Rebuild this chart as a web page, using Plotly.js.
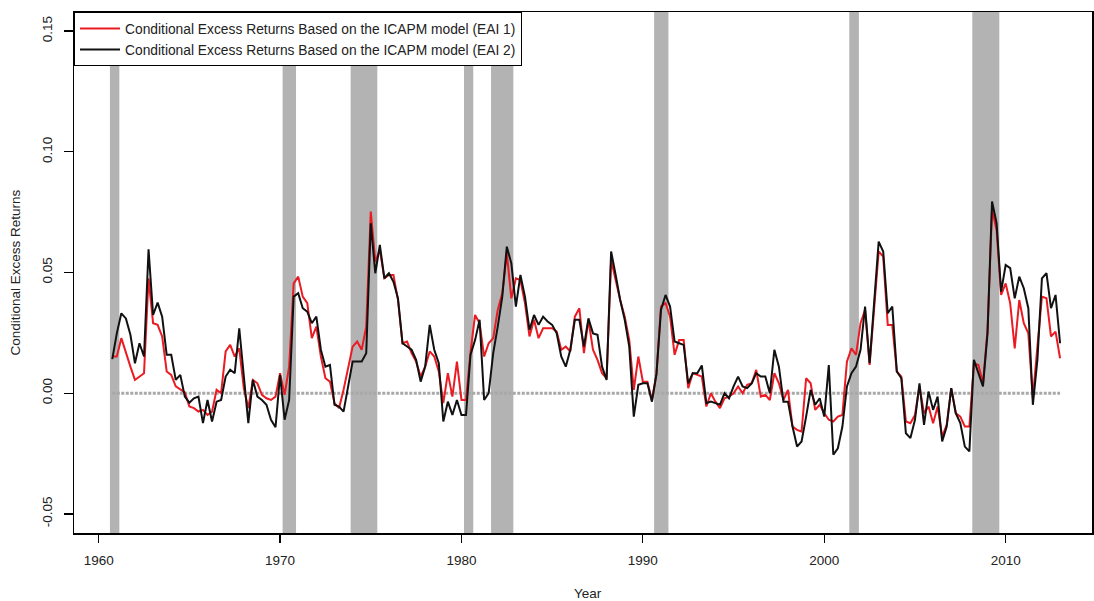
<!DOCTYPE html>
<html>
<head>
<meta charset="utf-8">
<script src="https://cdn.plot.ly/plotly-3.0.1.min.js"></script>
<style>
html,body{margin:0;padding:0;background:#fff;}
#chart{width:1094px;height:601px;}
</style>
</head>
<body>
<div id="chart"></div>
<script>
// ---- data (quarterly, first quarter at 1960.75) ----
const startYear = 1960.75;
const quarterStep = 0.25;

const eai1 = [
0.0152, 0.0152, 0.0228, 0.0166, 0.011, 0.0055, 0.0069, 0.0083, 0.0476, 0.029,
0.0283, 0.0235, 0.009, 0.0076, 0.0028, 0.0014, 0.0003, -0.0055, -0.0062, -0.0076,
-0.0069, -0.009, -0.0076, 0.0014, 0, 0.0173, 0.02, 0.0152, 0.0186, 0.0021,
-0.0062, 0.0055, 0.0041, -0.0007, -0.0021, -0.0028, -0.0014, 0.0083, -0.0007, 0.011,
0.0455, 0.0483, 0.040, 0.0373, 0.0228, 0.0276, 0.0152, 0.0062, 0.0048, -0.0041,
-0.0062, 0.0014, 0.0097, 0.0193, 0.0214, 0.018, 0.0276, 0.0752, 0.0545, 0.0593,
0.0476, 0.049, 0.049, 0.0386, 0.0207, 0.0214, 0.0166, 0.0131, 0.0069, 0.011,
0.0173, 0.0152, 0.009, -0.0041, 0.0083, -0.0014, 0.0131, -0.0028, -0.0028, 0.017,
0.0324, 0.029, 0.0152, 0.0207, 0.0228, 0.0345, 0.0414, 0.058, 0.0393, 0.0476,
0.0469, 0.0373, 0.0235, 0.0304, 0.0228, 0.0269, 0.0269, 0.0269, 0.0255, 0.018,
0.0193, 0.0173, 0.0317, 0.0352, 0.0166, 0.0304, 0.018, 0.0138, 0.0083, 0.0062,
0.0552, 0.0469, 0.0386, 0.0317, 0.022, 0.0014, 0.0152, 0.0048, 0.0048, -0.0028,
0.008, 0.0359, 0.0373, 0.0317, 0.0159, 0.022, 0.022, 0.0021, 0.0083, 0.0076,
0.0069, -0.0055, 0, -0.0035, -0.0062, -0.0021, -0.0014, 0, 0.0028, 0,
0.0035, 0.0041, 0.0097, -0.0014, -0.0007, -0.0028, 0.0083, 0.0041, -0.0028, 0.0014,
-0.0138, -0.0152, -0.0159, 0.0062, 0.0041, -0.0069, -0.0048, -0.0083, -0.011, -0.0117,
-0.0097, -0.009, 0.0131, 0.0186, 0.0159, 0.029, 0.0345, 0.0117, 0.0359, 0.0587,
0.0566, 0.0283, 0.0283, 0.009, 0.0069, -0.0117, -0.0124, -0.009, 0.0028, -0.0083,
-0.0055, -0.0124, -0.0055, -0.018, -0.0131, 0.0021, -0.0083, -0.0097, -0.0138, -0.0138,
0.0124, 0.0117, 0.0041, 0.0262, 0.0759, 0.0676, 0.0407, 0.0455, 0.0373, 0.0186,
0.0386, 0.029, 0.0248, -0.0021, 0.0193, 0.040, 0.0393, 0.0235, 0.0255, 0.0145
];

const eai2 = [
0.0141, 0.0248, 0.0331, 0.031, 0.0242, 0.0124, 0.0207, 0.0152, 0.0596, 0.0324,
0.0375, 0.0317, 0.0159, 0.0159, 0.0055, 0.0076, -0.0014, -0.0039, -0.0021, -0.0014,
-0.0124, -0.0028, -0.0117, -0.0035, -0.0028, 0.0069, 0.0097, 0.0083, 0.0269, 0.0069,
-0.0124, 0.0055, -0.0014, -0.0028, -0.0048, -0.011, -0.0141, 0.0076, -0.011, -0.0028,
0.040, 0.0414, 0.0352, 0.0338, 0.029, 0.0317, 0.018, 0.011, 0.0117, -0.0048,
-0.0055, -0.0076, 0.0028, 0.0131, 0.0131, 0.0131, 0.0166, 0.0704, 0.0497, 0.0614,
0.0476, 0.0497, 0.0462, 0.0393, 0.0207, 0.0193, 0.018, 0.0138, 0.0048, 0.011,
0.0283, 0.018, 0.0124, -0.0117, -0.0035, -0.009, -0.0028, -0.009, -0.009, 0.016,
0.022, 0.0304, -0.0028, 0, 0.0166, 0.0276, 0.040, 0.0607, 0.0538, 0.0359,
0.049, 0.040, 0.0262, 0.0324, 0.0283, 0.0317, 0.0297, 0.0283, 0.0248, 0.0152,
0.011, 0.018, 0.0304, 0.0304, 0.0193, 0.031, 0.0248, 0.0242, 0.011, 0.0055,
0.0587, 0.049, 0.0386, 0.0304, 0.0193, -0.0097, 0.0035, 0.0041, 0.0041, -0.0035,
0.008, 0.0345, 0.0407, 0.0359, 0.0214, 0.0207, 0.02, 0.0041, 0.0083, 0.0083,
0.0115, -0.0041, -0.0035, -0.0041, -0.0048, 0, -0.0021, 0.0028, 0.0069, 0.0028,
0.0021, 0.0041, 0.0083, 0.0069, 0.0069, 0, 0.018, 0.011, -0.0035, -0.0035,
-0.0138, -0.0221, -0.02, -0.0097, 0.0014, -0.0048, -0.0021, -0.0097, 0.0117, -0.0255,
-0.0228, -0.0138, 0.0028, 0.0083, 0.011, 0.018, 0.0359, 0.0124, 0.0359, 0.0628,
0.0587, 0.0331, 0.0359, 0.009, 0.0062, -0.0166, -0.0186, -0.011, 0.0041, -0.0131,
0.0007, -0.0069, -0.0014, -0.02, -0.0138, 0.0021, -0.0083, -0.0124, -0.0221, -0.0241,
0.0138, 0.0083, 0.0028, 0.0248, 0.0794, 0.0704, 0.0421, 0.0531, 0.0518, 0.0393,
0.0483, 0.0435, 0.0352, -0.0048, 0.0138, 0.0476, 0.0497, 0.0352, 0.0407, 0.0207
];

// recession shading (years)
const recStart = [1960.62, 1970.14, 1973.89, 1980.14, 1981.63, 1990.62, 2001.38, 2008.16];
const recEnd   = [1961.14, 1970.88, 1975.36, 1980.65, 1982.86, 1991.41, 2001.91, 2009.65];

const xTicks = [1960, 1970, 1980, 1990, 2000, 2010];
const yTicks = [-0.05, 0.00, 0.05, 0.10, 0.15];
const yTickText = ["-0.05", "0.00", "0.05", "0.10", "0.15"];

const name1 = "Conditional Excess Returns Based on the ICAPM model (EAI 1)";
const name2 = "Conditional Excess Returns Based on the ICAPM model (EAI 2)";

// ---- build ----
const years = eai1.map((_, i) => startYear + i * quarterStep);
const zeros = years.map(() => 0);

const FONT = "Liberation Sans, Arial, Helvetica, sans-serif";

const traces = [
  {x: years, y: zeros, mode: "lines", showlegend: false, hoverinfo: "skip",
   line: {color: "#a8a8a8", width: 3, dash: "3px,1.5px"}},
  {x: years, y: eai1, mode: "lines", name: name1,
   line: {color: "#ea1b23", width: 2}},
  {x: years, y: eai2, mode: "lines", name: name2,
   line: {color: "#111111", width: 2}}
];

const shapes = recStart.map((s, i) => ({
  type: "rect", xref: "x", yref: "paper", x0: s, x1: recEnd[i], y0: 0, y1: 1,
  fillcolor: "#b3b3b3", line: {width: 0}, layer: "below"
}));

const layout = {
  width: 1094, height: 601,
  margin: {l: 74, r: 2, t: 12, b: 68},
  paper_bgcolor: "#fff", plot_bgcolor: "#fff",
  font: {family: FONT, size: 13.5, color: "#222"},
  showlegend: true,
  legend: {x: 0, y: 1, xanchor: "left", yanchor: "top",
           bgcolor: "#fff", bordercolor: "#000", borderwidth: 1, itemwidth: 40,
           font: {family: FONT, size: 13.8, color: "#222"}, tracegroupgap: 0},
  xaxis: {range: [1958.64, 2014.76], tickmode: "array", tickvals: xTicks,
          ticks: "outside", ticklen: 8, tickwidth: 1.2, tickcolor: "#000",
          showline: true, linecolor: "#000", linewidth: 1.5, mirror: true,
          showgrid: false, zeroline: false, ticklabelstandoff: 6,
          title: {text: ""}},
  yaxis: {range: [-0.0579, 0.1579], tickmode: "array", tickvals: yTicks, ticktext: yTickText,
          ticks: "outside", ticklen: 9, tickwidth: 1.2, tickcolor: "#000", tickangle: -90,
          showline: true, linecolor: "#000", linewidth: 1.5, mirror: true,
          showgrid: false, zeroline: false, ticklabelstandoff: 6,
          title: {text: ""}},
  shapes: shapes,
  annotations: [
    {text: "Year", xref: "paper", yref: "paper", x: 0.505, y: 0, yshift: -60,
     xanchor: "center", yanchor: "middle", showarrow: false,
     font: {family: FONT, size: 13.5, color: "#222"}},
    {text: "Conditional Excess Returns", xref: "paper", yref: "paper", x: 0, y: 0.5,
     xshift: -59, xanchor: "center", yanchor: "middle", textangle: -90, showarrow: false,
     font: {family: FONT, size: 13.5, color: "#222"}}
  ]
};

Plotly.newPlot("chart", traces, layout, {displayModeBar: false, staticPlot: true});
</script>
</body>
</html>
